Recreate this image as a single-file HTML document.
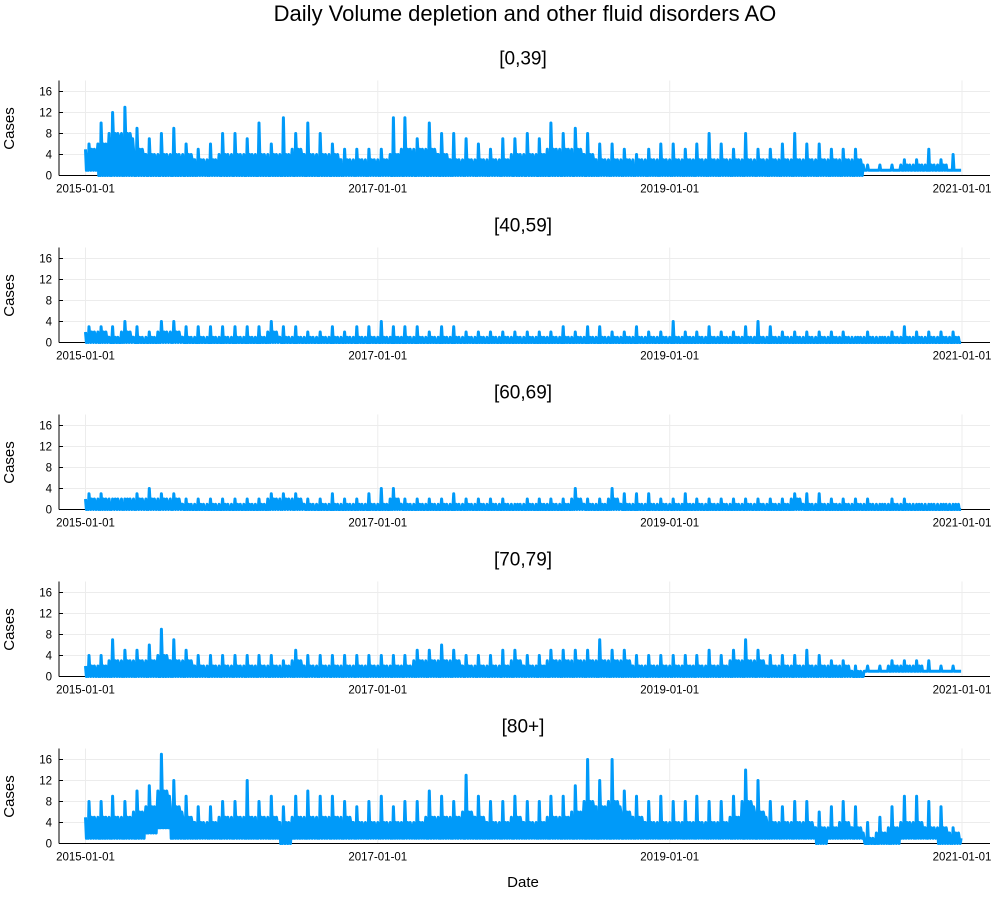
<!DOCTYPE html>
<html><head><meta charset="utf-8"><style>
body{margin:0;background:#fff;}
svg{display:block;font-family:"Liberation Sans","DejaVu Sans",sans-serif;}
</style></head><body>
<svg id="c" width="1000" height="900">
<text x="525" y="21" font-size="22" text-anchor="middle">Daily Volume depletion and other fluid disorders AO</text>
<text x="523" y="887" font-size="15" text-anchor="middle">Date</text>
</svg>
<script>
const panelTitles = ["[0,39]","[40,59]","[60,69]","[70,79]","[80+]"];
const yTicks = [0,4,8,12,16];
const xTickLabels = ["2015-01-01","2017-01-01","2019-01-01","2021-01-01"];
// monthly peaks, typical upper, and lows (Jan 2015 .. Dec 2020)
const peak0 = [6,10,12,13,9,7,8,9,6,5,6,8, 8,7,10,6,11,8,10,8,6,5,5,5, 5,11,11,7,10,8,8,7,6,5,7,7, 8,7,10,8,9,8,6,6,5,4,5,6, 6,5,6,8,6,5,8,5,5,6,8,6, 6,5,5,5,2,2,2,3,3,5,3,4];
const typ0  = [5,6,8,8,5,4,4,4,4,3,3,4, 4,4,4,4,4,5,4,4,4,3,3,3, 3,4,5,5,5,4,3,3,3,3,3,4, 4,4,5,5,5,4,3,3,3,3,3,3, 3,3,3,3,3,3,3,3,3,3,3,3, 3,3,3,3,1,1,1,2,2,2,2,1];
const low0  = [1,0,0,0,0,0,0,0,0,0,0,0, 0,0,0,0,0,0,0,0,0,0,0,0, 0,0,0,0,0,0,0,0,0,0,0,0, 0,0,0,0,0,0,0,0,0,0,0,0, 0,0,0,0,0,0,0,0,0,0,0,0, 0,0,0,0,1,1,1,1,1,1,1,1];
const peak1 = [3,3,3,4,3,2,4,4,3,3,3,3, 3,3,3,4,3,3,2,2,3,2,3,3, 4,3,3,3,2,3,3,2,2,2,2,2, 2,2,2,3,2,3,3,2,2,3,2,2, 4,2,2,3,2,2,3,4,3,2,2,2, 2,2,2,1,2,1,2,3,2,2,2,2];
const typ1  = [2,2,1,2,1,1,2,2,1,1,1,1, 1,1,1,2,1,1,1,1,1,1,1,1, 1,1,1,1,1,1,1,1,1,1,1,1, 1,1,1,1,1,1,1,1,1,1,1,1, 1,1,1,1,1,1,1,1,1,1,1,1, 1,1,1,1,1,1,1,1,1,1,1,1];
const low1  = [0,0,0,0,0,0,0,0,0,0,0,0, 0,0,0,0,0,0,0,0,0,0,0,0, 0,0,0,0,0,0,0,0,0,0,0,0, 0,0,0,0,0,0,0,0,0,0,0,0, 0,0,0,0,0,0,0,0,0,0,0,0, 0,0,0,0,0,0,0,0,0,0,0,0];
const peak2 = [3,3,2,2,3,4,3,3,2,2,2,2, 2,2,2,3,3,3,2,2,3,2,2,3, 4,4,2,2,2,2,3,2,2,2,2,1, 2,2,2,2,4,2,2,4,3,3,3,2, 2,3,2,2,2,2,2,2,2,2,3,3, 3,2,2,2,2,1,2,2,1,1,1,1];
const typ2  = [2,2,2,2,2,2,2,2,1,1,1,1, 1,1,1,2,2,2,1,1,1,1,1,1, 1,2,1,1,1,1,1,1,1,1,1,1, 1,1,1,1,2,1,1,2,1,1,1,1, 1,1,1,1,1,1,1,1,1,1,2,1, 1,1,1,1,1,1,1,1,1,1,1,1];
const low2  = [0,0,0,0,0,0,0,0,0,0,0,0, 0,0,0,0,0,0,0,0,0,0,0,0, 0,0,0,0,0,0,0,0,0,0,0,0, 0,0,0,0,0,0,0,0,0,0,0,0, 0,0,0,0,0,0,0,0,0,0,0,0, 0,0,0,0,0,0,0,0,0,0,0,0];
const peak3 = [4,4,7,5,5,6,9,7,5,4,4,4, 4,4,4,4,3,5,4,4,4,4,4,4, 4,4,4,5,5,6,5,4,4,4,5,5, 4,4,5,5,5,5,7,5,5,4,4,4, 4,4,4,5,4,5,7,5,4,4,4,5, 4,3,3,2,2,2,3,3,3,3,2,2];
const typ3  = [2,2,3,3,3,3,4,3,3,2,2,2, 2,2,2,2,2,3,2,2,2,2,2,2, 2,2,2,3,3,3,3,2,2,2,2,3, 2,2,3,3,3,3,3,3,3,2,2,2, 2,2,2,2,2,3,3,3,2,2,2,2, 2,2,2,1,1,1,2,2,2,1,1,1];
const low3  = [0,0,0,0,0,0,0,0,0,0,0,0, 0,0,0,0,0,0,0,0,0,0,0,0, 0,0,0,0,0,0,0,0,0,0,0,0, 0,0,0,0,0,0,0,0,0,0,0,0, 0,0,0,0,0,0,0,0,0,0,0,0, 0,0,0,0,1,1,1,1,1,1,1,1];
const peak4 = [8,8,9,8,10,11,17,12,9,7,7,8, 8,12,8,9,7,9,10,9,9,8,7,8, 9,7,8,8,10,9,8,13,9,8,8,9, 8,8,9,9,11,16,12,16,10,9,8,9, 8,8,9,8,8,9,14,12,8,7,8,8, 6,7,8,7,4,5,7,9,9,8,7,3];
const typ4  = [5,5,5,5,6,7,10,7,5,4,4,5, 5,5,5,5,4,5,5,5,5,5,4,4, 4,4,4,4,5,5,5,6,5,4,4,5, 4,4,5,5,6,8,7,8,6,5,4,4, 4,4,4,4,4,5,8,6,4,4,4,4, 3,3,4,3,1,2,3,4,4,3,3,2];
const low4  = [1,1,1,1,1,2,3,1,1,1,1,1, 1,1,1,1,0,1,1,1,1,1,1,1, 1,1,1,1,1,1,1,1,1,1,1,1, 1,1,1,1,1,1,1,1,1,1,1,1, 1,1,1,1,1,1,1,1,1,1,1,1, 0,1,1,1,0,0,0,1,1,1,0,0];
const peaks=[peak0,peak1,peak2,peak3,peak4], typs=[typ0,typ1,typ2,typ3,typ4], lows=[low0,low1,low2,low3,low4];

const NS="http://www.w3.org/2000/svg";
const svg=document.getElementById('c');
const d0=Date.UTC(2015,0,1), d1=Date.UTC(2021,0,1);
const X0=85.5, X1=962;
function xScale(t){return X0+(t-d0)/(d1-d0)*(X1-X0);}
function mk(tag,attrs,parent){const e=document.createElementNS(NS,tag);for(const k in attrs)e.setAttribute(k,attrs[k]);(parent||svg).appendChild(e);return e;}
const tickDates=[Date.UTC(2015,0,1),Date.UTC(2017,0,1),Date.UTC(2019,0,1),Date.UTC(2021,0,1)];
for(let p=0;p<5;p++){
  const base=175.5+p*167;
  const yS=v=>base-v*5.25;
  const g=mk('g',{});
  
  
  const tt=mk('text',{x:523,y:base-111,'font-size':19,'text-anchor':'middle'},g);tt.textContent=panelTitles[p];
  
  
  const yl=mk('text',{x:14,y:base-47,'font-size':15,'text-anchor':'middle',transform:`rotate(-90 14 ${base-47})`},g);yl.textContent='Cases';
  
  
  yTicks.forEach(v=>{
    mk('line',{x1:59,x2:990,y1:yS(v),y2:yS(v),stroke:'#ececec','stroke-width':1},g);
    mk('line',{x1:59,x2:63,y1:yS(v),y2:yS(v),stroke:'#000','stroke-width':1},g);
    const t=mk('text',{x:52,y:yS(v)+4,'font-size':11.5,'text-anchor':'end'},g);t.textContent=v;
    
    
  });
  tickDates.forEach((d,i)=>{
    const x=xScale(d);
    mk('line',{x1:x,x2:x,y1:base-95,y2:base,stroke:'#ececec','stroke-width':1},g);
    const t=mk('text',{x:x,y:base+17,'font-size':11.5,'text-anchor':'middle'},g);t.textContent=xTickLabels[i];
    
    
  });
  mk('line',{x1:59,x2:59,y1:base-95,y2:base,stroke:'#000','stroke-width':1},g);
  mk('line',{x1:59,x2:990,y1:base,y2:base,stroke:'#000','stroke-width':1},g);
  const pk=peaks[p],ty=typs[p],lo=lows[p];
  const pts=[];
  for(let m=0;m<72;m++){
    const s=Date.UTC(2015,m,1), e=Date.UTC(2015,m+1,1);
    const mid=Math.max(lo[m],ty[m]-1);
    const seq=[ty[m],lo[m],mid,lo[m],pk[m],mid,lo[m],ty[m],mid,lo[m],ty[m],mid,lo[m],mid];
    for(let k=0;k<seq.length;k++){
      const t=s+(e-s)*k/seq.length;
      pts.push(xScale(t).toFixed(1)+','+yS(seq[k]).toFixed(1));
    }
  }
  const ln=mk('polyline',{points:pts.join(' '),fill:'none',stroke:'#009af9','stroke-width':3,'stroke-linejoin':'round'},g);
  
  
}
</script>
</body></html>
